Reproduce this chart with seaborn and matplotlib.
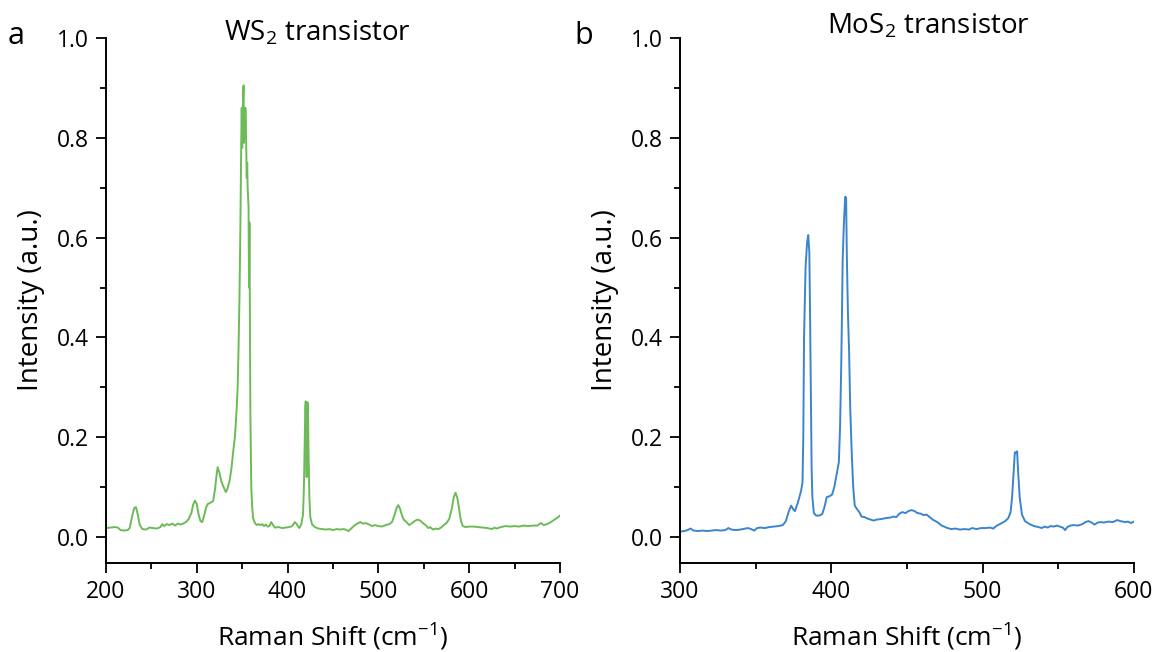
import numpy as np
import pandas as pd
import matplotlib
matplotlib.use("Agg")
import matplotlib.pyplot as plt
from matplotlib.ticker import MultipleLocator, FormatStrFormatter
import seaborn as sns

# Raman spectrum of the WS2 transistor channel
ws2_shift = [200, 205, 210, 213, 216, 220, 224, 226, 228, 231, 233, 235, 237, 240, 244, 248,
             252, 256, 260, 262, 264, 267, 270, 273, 276, 279, 282, 285, 288, 291, 294, 296,
             298, 300, 302, 304, 306, 308, 310, 312, 315, 318, 320, 322, 323, 325, 327, 329,
             331, 332, 334, 336, 338, 340, 342, 343, 344, 345, 346, 347, 348, 348.5, 349, 349.5,
             350, 350.5, 351, 351.5, 352, 352.5, 353, 353.5, 354, 355, 355.5, 356, 357, 357.5,
             358, 358.5, 359, 360, 361, 362, 364, 366, 368, 370, 372, 374, 376, 378, 380, 382,
             384, 386, 390, 394, 398, 402, 405, 408, 410, 412, 413, 415, 417, 418, 419, 419.5,
             420, 420.5, 421, 421.5, 422, 422.5, 423, 424, 425, 427, 430, 434, 438, 442, 446,
             450, 454, 458, 462, 465, 467, 470, 474, 477, 480, 483, 486, 490, 493, 496, 500,
             504, 508, 512, 515, 518, 520, 522, 524, 526, 528, 531, 534, 537, 540, 543, 546,
             549, 552, 555, 557, 560, 563, 566, 569, 572, 575, 578, 581, 583, 585, 587, 589,
             591, 593, 596, 600, 605, 610, 615, 620, 625, 628, 630, 635, 640, 645, 650, 655,
             660, 665, 670, 675, 679, 682, 686, 690, 694, 698, 700]
ws2_intensity = [0.018, 0.019, 0.020, 0.019, 0.014, 0.013, 0.014, 0.018, 0.035, 0.058, 0.060,
                 0.045, 0.025, 0.016, 0.015, 0.019, 0.018, 0.017, 0.020, 0.026, 0.022, 0.026,
                 0.024, 0.027, 0.023, 0.027, 0.025, 0.027, 0.030, 0.036, 0.048, 0.065, 0.073,
                 0.066, 0.045, 0.032, 0.030, 0.042, 0.058, 0.066, 0.069, 0.072, 0.095, 0.128,
                 0.140, 0.128, 0.112, 0.102, 0.094, 0.090, 0.098, 0.112, 0.135, 0.170, 0.200,
                 0.230, 0.260, 0.300, 0.380, 0.480, 0.620, 0.720, 0.800, 0.860, 0.780, 0.850,
                 0.880, 0.905, 0.790, 0.850, 0.800, 0.860, 0.830, 0.720, 0.750, 0.700, 0.660,
                 0.500, 0.630, 0.450, 0.250, 0.100, 0.060, 0.038, 0.028, 0.024, 0.026, 0.024,
                 0.026, 0.022, 0.025, 0.021, 0.022, 0.030, 0.024, 0.019, 0.020, 0.018, 0.019,
                 0.020, 0.022, 0.030, 0.026, 0.020, 0.018, 0.025, 0.045, 0.100, 0.200, 0.260,
                 0.272, 0.200, 0.120, 0.200, 0.270, 0.250, 0.180, 0.080, 0.040, 0.025, 0.020,
                 0.017, 0.016, 0.015, 0.016, 0.014, 0.016, 0.015, 0.016, 0.014, 0.012, 0.017,
                 0.024, 0.027, 0.030, 0.027, 0.028, 0.025, 0.022, 0.024, 0.022, 0.021, 0.024,
                 0.026, 0.030, 0.045, 0.058, 0.064, 0.056, 0.043, 0.035, 0.030, 0.024, 0.028,
                 0.032, 0.035, 0.033, 0.028, 0.024, 0.018, 0.020, 0.015, 0.017, 0.016, 0.019,
                 0.024, 0.028, 0.036, 0.058, 0.080, 0.089, 0.078, 0.055, 0.032, 0.022, 0.020,
                 0.021, 0.021, 0.020, 0.019, 0.018, 0.016, 0.019, 0.017, 0.020, 0.022, 0.021,
                 0.022, 0.021, 0.023, 0.022, 0.023, 0.023, 0.028, 0.024, 0.026, 0.030, 0.035,
                 0.040, 0.043]

# Raman spectrum of the MoS2 transistor channel
mos2_shift = [300, 303, 305, 307, 309, 312, 315, 318, 321, 324, 327, 330, 332, 334, 337, 340,
              343, 345, 347, 349, 351, 353, 356, 359, 362, 365, 368, 370, 372, 373.5, 375, 376,
              378, 380, 381, 381.5, 382, 383, 384, 384.8, 385.5, 386, 386.5, 387, 387.5, 388.5,
              390, 392, 394, 395.5, 397, 399, 400.5, 402, 403.5, 405, 405.8, 406.5, 407, 407.5,
              408, 408.5, 409.2, 409.8, 410.3, 411, 411.8, 412.5, 413.5, 414.5, 415.5, 417,
              418.5, 420, 422, 424, 426, 428, 430, 433, 436, 439, 441, 443, 445, 447, 449, 451,
              453, 455, 457, 459, 461, 463, 465, 467, 470, 473, 476, 479, 482, 485, 488, 491,
              493, 496, 499, 502, 505, 507, 509, 512, 515, 517, 518.5, 519.5, 520.5, 521.3, 522,
              522.8, 523.5, 524.5, 526, 528, 531, 534, 537, 539, 541, 543, 545, 547, 549, 551,
              553, 554.5, 556, 558, 560, 563, 566, 568, 570, 572, 574, 576, 578, 580, 583, 586,
              589, 591, 594, 596, 598, 600]
mos2_intensity = [0.011, 0.012, 0.014, 0.017, 0.013, 0.012, 0.013, 0.012, 0.013, 0.014, 0.013,
                  0.014, 0.018, 0.015, 0.014, 0.015, 0.017, 0.018, 0.016, 0.013, 0.018, 0.019,
                  0.018, 0.020, 0.021, 0.022, 0.024, 0.032, 0.052, 0.063, 0.055, 0.052, 0.070,
                  0.092, 0.110, 0.200, 0.400, 0.540, 0.590, 0.605, 0.570, 0.440, 0.280, 0.140,
                  0.080, 0.048, 0.043, 0.043, 0.046, 0.060, 0.080, 0.082, 0.085, 0.100, 0.125,
                  0.150, 0.220, 0.330, 0.430, 0.550, 0.600, 0.640, 0.682, 0.680, 0.560, 0.450,
                  0.370, 0.260, 0.170, 0.100, 0.063, 0.056, 0.050, 0.041, 0.040, 0.037, 0.035,
                  0.033, 0.035, 0.036, 0.038, 0.039, 0.041, 0.040, 0.047, 0.050, 0.048, 0.052,
                  0.054, 0.052, 0.048, 0.047, 0.044, 0.045, 0.040, 0.035, 0.030, 0.023, 0.019,
                  0.016, 0.017, 0.015, 0.016, 0.015, 0.018, 0.016, 0.018, 0.018, 0.019, 0.017,
                  0.022, 0.027, 0.032, 0.038, 0.050, 0.080, 0.130, 0.170, 0.168, 0.172, 0.130,
                  0.080, 0.045, 0.032, 0.026, 0.022, 0.020, 0.018, 0.021, 0.019, 0.022, 0.021,
                  0.023, 0.021, 0.019, 0.014, 0.020, 0.023, 0.024, 0.023, 0.026, 0.030, 0.032,
                  0.029, 0.025, 0.029, 0.030, 0.029, 0.031, 0.030, 0.034, 0.032, 0.030, 0.031,
                  0.028, 0.031]

panels = [
    dict(letter="a", title="WS$_2$ transistor", x=ws2_shift, y=ws2_intensity,
         color="#6cbb58", xlim=(200, 700), xmajor=100, xminor=50),
    dict(letter="b", title="MoS$_2$ transistor", x=mos2_shift, y=mos2_intensity,
         color="#3a85cc", xlim=(300, 600), xmajor=100, xminor=50),
]

sns.set_theme(style="ticks")
plt.rcParams["font.family"] = ["Open Sans", "DejaVu Sans"]
plt.rcParams["mathtext.fontset"] = "custom"
plt.rcParams["mathtext.rm"] = "Open Sans"
plt.rcParams["mathtext.it"] = "Open Sans"
plt.rcParams["mathtext.default"] = "rm"
plt.rcParams["text.color"] = "black"
plt.rcParams["axes.labelcolor"] = "black"

fig = plt.figure(figsize=(11.56, 6.52), dpi=100)
axes_rects = [[0.0917, 0.1365, 0.3927, 0.8052], [0.5882, 0.1365, 0.3927, 0.8052]]
letter_pos = [(0.007, 0.945), (0.497, 0.945)]
title_pos = [(0.275, 0.949), (0.803, 0.960)]

for p, rect, lp, tp in zip(panels, axes_rects, letter_pos, title_pos):
    ax = fig.add_axes(rect)
    df = pd.DataFrame({"shift": p["x"], "intensity": p["y"]})
    sns.lineplot(data=df, x="shift", y="intensity", ax=ax, color=p["color"],
                 linewidth=1.4, estimator=None, sort=False)
    ax.set_xlim(*p["xlim"])
    ax.set_ylim(-0.052, 1.0)
    ax.xaxis.set_major_locator(MultipleLocator(p["xmajor"]))
    ax.xaxis.set_minor_locator(MultipleLocator(p["xminor"]))
    ax.yaxis.set_major_locator(MultipleLocator(0.2))
    ax.yaxis.set_minor_locator(MultipleLocator(0.1))
    ax.yaxis.set_major_formatter(FormatStrFormatter("%.1f"))
    sns.despine(ax=ax)
    for side in ("left", "bottom"):
        ax.spines[side].set_linewidth(1.4)
        ax.spines[side].set_color("black")
    ax.tick_params(which="major", length=7, width=1.3, labelsize=16.5, colors="black", pad=5)
    ax.tick_params(which="minor", length=4, width=1.3, colors="black")
    ax.set_xlabel("Raman Shift (cm$^{-1}$)", fontsize=19)
    ax.xaxis.set_label_coords(0.5, -0.112)
    ax.set_ylabel("Intensity (a.u.)", fontsize=20, labelpad=9)
    fig.text(tp[0], tp[1], p["title"], fontsize=20, ha="center", va="center")
    fig.text(lp[0], lp[1], p["letter"], fontsize=22, ha="left", va="center")

fig.savefig("out.png", dpi=100)
